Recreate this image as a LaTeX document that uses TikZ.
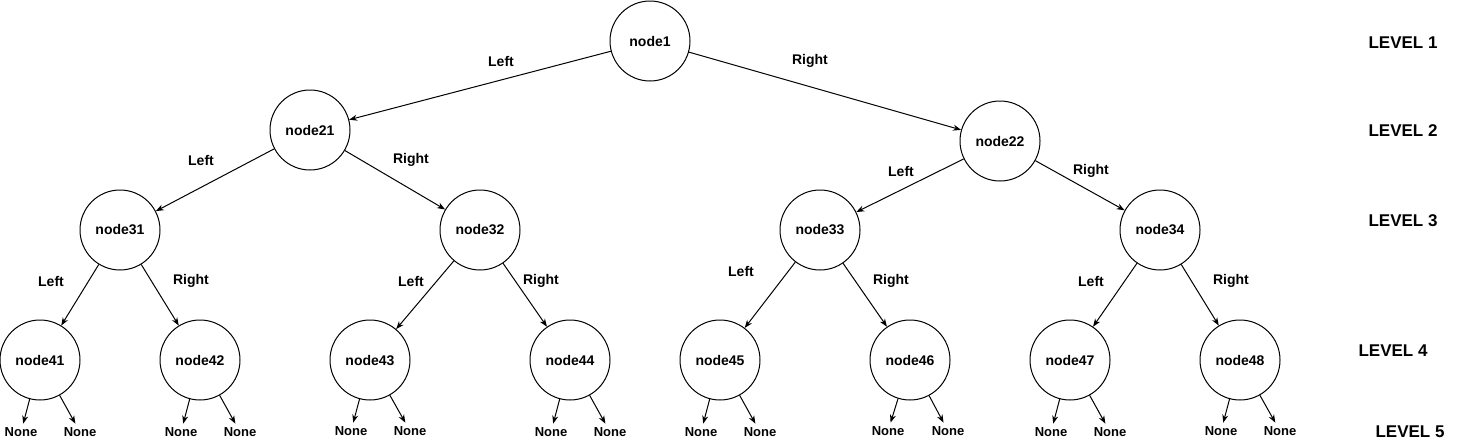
\documentclass[tikz,border=0pt]{standalone}
\usepackage{fontspec}
\setmainfont{Liberation Sans}
\usetikzlibrary{arrows.meta}

\begin{document}
\begin{tikzpicture}[x=0.75pt, y=-0.75pt, line width=0.75pt, >={Stealth[length=6pt,width=4.5pt]}]
	\tikzstyle{treenode} = [circle, draw, minimum size=60pt, inner sep=0pt, font=\fontsize{10.5}{12}\selectfont\bfseries]
	\tikzstyle{branch} = [font=\fontsize{10.5}{12}\selectfont\bfseries]
	\tikzstyle{leaf} = [inner sep=2.5pt, font=\fontsize{9.75}{11}\selectfont\bfseries]
	\tikzstyle{levelname} = [font=\fontsize{12.75}{14}\selectfont\bfseries]
	
	\useasboundingbox (0,0) rectangle (1466,443);
	
	% Define tree nodes with circular style
	\node[treenode] (node1) at (650,41) {node1};
	\node[treenode] (node21) at (310,130) {node21};
	\node[treenode] (node22) at (1000,141) {node22};
	\node[treenode] (node31) at (120,230) {node31};
	\node[treenode] (node32) at (480,230) {node32};
	\node[treenode] (node33) at (820,230) {node33};
	\node[treenode] (node34) at (1160,230) {node34};
	\node[treenode] (node41) at (40,360) {node41};
	\node[treenode] (node42) at (200,360) {node42};
	\node[treenode] (node43) at (370,360) {node43};
	\node[treenode] (node44) at (570,360) {node44};
	\node[treenode] (node45) at (720,360) {node45};
	\node[treenode] (node46) at (910,360) {node46};
	\node[treenode] (node47) at (1070,360) {node47};
	\node[treenode] (node48) at (1240,360) {node48};
	
	% Empty children
	\node[leaf] (none41a) at (21,432) {None};
	\node[leaf] (none41b) at (80,432) {None};
	\node[leaf] (none42a) at (181,432) {None};
	\node[leaf] (none42b) at (240,432) {None};
	\node[leaf] (none43a) at (351,431) {None};
	\node[leaf] (none43b) at (410,431) {None};
	\node[leaf] (none44a) at (551,432) {None};
	\node[leaf] (none44b) at (610,432) {None};
	\node[leaf] (none45a) at (701,432) {None};
	\node[leaf] (none45b) at (760,432) {None};
	\node[leaf] (none46a) at (888,431) {None};
	\node[leaf] (none46b) at (948,431) {None};
	\node[leaf] (none47a) at (1051,432) {None};
	\node[leaf] (none47b) at (1110,432) {None};
	\node[leaf] (none48a) at (1221,431) {None};
	\node[leaf] (none48b) at (1280,431) {None};
	
	% Edges between tree nodes
	\draw[->] (node1) -- (node21);
	\draw[->] (node1) -- (node22);
	\draw[->] (node21) -- (node31);
	\draw[->] (node21) -- (node32);
	\draw[->] (node22) -- (node33);
	\draw[->] (node22) -- (node34);
	\draw[->] (node31) -- (node41);
	\draw[->] (node31) -- (node42);
	\draw[->] (node32) -- (node43);
	\draw[->] (node32) -- (node44);
	\draw[->] (node33) -- (node45);
	\draw[->] (node33) -- (node46);
	\draw[->] (node34) -- (node47);
	\draw[->] (node34) -- (node48);
	
	% Edges to empty children
	\draw[->] (node41) -- (none41a);
	\draw[->] (node41) -- (none41b);
	\draw[->] (node42) -- (none42a);
	\draw[->] (node42) -- (none42b);
	\draw[->] (node43) -- (none43a);
	\draw[->] (node43) -- (none43b);
	\draw[->] (node44) -- (none44a);
	\draw[->] (node44) -- (none44b);
	\draw[->] (node45) -- (none45a);
	\draw[->] (node45) -- (none45b);
	\draw[->] (node46) -- (none46a);
	\draw[->] (node46) -- (none46b);
	\draw[->] (node47) -- (none47a);
	\draw[->] (node47) -- (none47b);
	\draw[->] (node48) -- (none48a);
	\draw[->] (node48) -- (none48b);
	
	% Branch labels
	\node[branch] (l1) at (501,61) {Left};
	\node[branch] (r1) at (810,61) {Right};
	\node[branch] (l21) at (201,160) {Left};
	\node[branch] (r21) at (411,160) {Right};
	\node[branch] (l22) at (901,171) {Left};
	\node[branch] (r22) at (1091,171) {Right};
	\node[branch] (l31) at (51,281) {Left};
	\node[branch] (r31) at (191,281) {Right};
	\node[branch] (l32) at (411,281) {Left};
	\node[branch] (r32) at (541,281) {Right};
	\node[branch] (l33) at (741,271) {Left};
	\node[branch] (r33) at (891,281) {Right};
	\node[branch] (l34) at (1091,281) {Left};
	\node[branch] (r34) at (1231,281) {Right};
	
	% Level names
	\node[levelname] (level1) at (1403,43) {LEVEL 1};
	\node[levelname] (level2) at (1403,131) {LEVEL 2};
	\node[levelname] (level3) at (1403,221) {LEVEL 3};
	\node[levelname] (level4) at (1393,351) {LEVEL 4};
	\node[levelname] (level5) at (1410,432) {LEVEL 5};
	
\end{tikzpicture}
\end{document}
